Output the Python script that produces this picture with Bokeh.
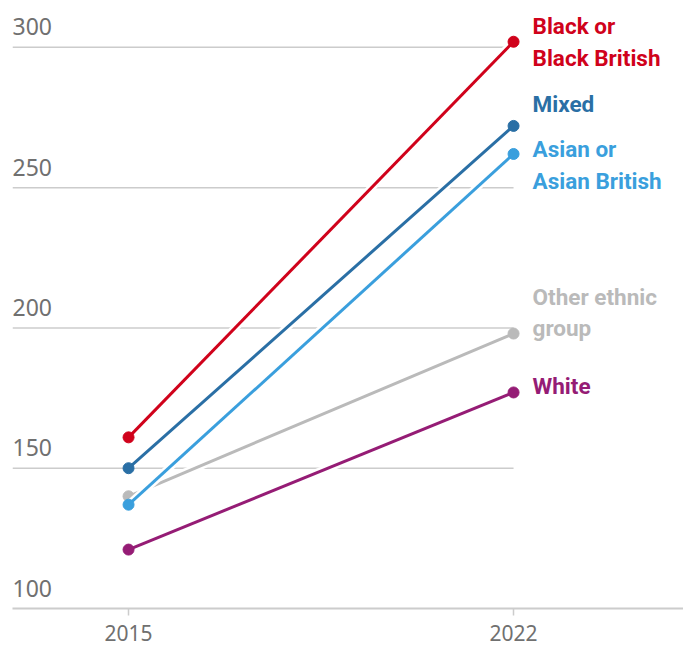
from bokeh.plotting import figure
from bokeh.models import Range1d, FixedTicker
from bokeh.core.properties import value
from bokeh.embed import file_html
from bokeh.resources import INLINE

years = [2015, 2022]
groups = ["White", "Other ethnic\ngroup", "Asian or\nAsian British", "Mixed", "Black or\nBlack British"]
v2015 = [121, 140, 137, 150, 161]
v2022 = [177, 198, 262, 272, 302]
colors = ["#951c75", "#bababa", "#3a9fdd", "#2a6fa5", "#d0021b"]
label_dy = [6, 21, -11, 22, 0]  # px nudges of end labels
y_ticks = [100, 150, 200, 250, 300]

X0, X1 = 2012.89, 2025.09
p = figure(width=683, height=646, output_backend="svg", toolbar_location=None,
           x_range=Range1d(X0, X1), y_range=Range1d(100, 316.7),
           min_border_left=12, min_border_right=0, min_border_top=0, min_border_bottom=38)
p.outline_line_color = None
p.xgrid.visible = False
p.ygrid.visible = False
p.yaxis.visible = False

ax = p.xaxis[0]
ax.ticker = FixedTicker(ticks=years)
ax.axis_line_color = "#cccccc"
ax.axis_line_width = 2
ax.major_tick_line_color = "#cccccc"
ax.major_tick_line_width = 1.5
ax.major_tick_in = 0
ax.major_tick_out = 7
ax.minor_tick_line_color = None
ax.major_label_text_font = "Noto Sans"
ax.major_label_text_font_size = "21px"
ax.major_label_text_color = "#707070"
ax.major_label_standoff = 9

# gridlines from left edge to 2022
gl = [t for t in y_ticks if t > 100]
p.segment(x0=[X0] * len(gl), x1=[years[1]] * len(gl), y0=gl, y1=gl,
          line_color="#cccccc", line_width=1.5)
# y tick labels above gridlines
p.text(x=[X0] * len(y_ticks), y=y_ticks, text=[str(t) for t in y_ticks],
       text_font=value("Noto Sans"), text_font_size="23px", text_color="#707070",
       text_baseline="bottom", text_align="left", y_offset=-12)

for g, a, b, c, dy in zip(groups, v2015, v2022, colors, label_dy):
    p.line(years, [a, b], line_color="white", line_width=8)
    p.line(years, [a, b], line_color=c, line_width=3)
    p.scatter(years, [a, b], size=11, fill_color=c, line_color=c)
    p.text(x=[years[1]], y=[b], text=[g], x_offset=19, y_offset=-dy,
           text_font=value("Roboto"), text_font_style="bold", text_font_size="22.5px",
           text_color=c, text_baseline="middle", text_align="left", text_line_height=1.22)

open("out.html", "w").write(file_html(p, INLINE))
